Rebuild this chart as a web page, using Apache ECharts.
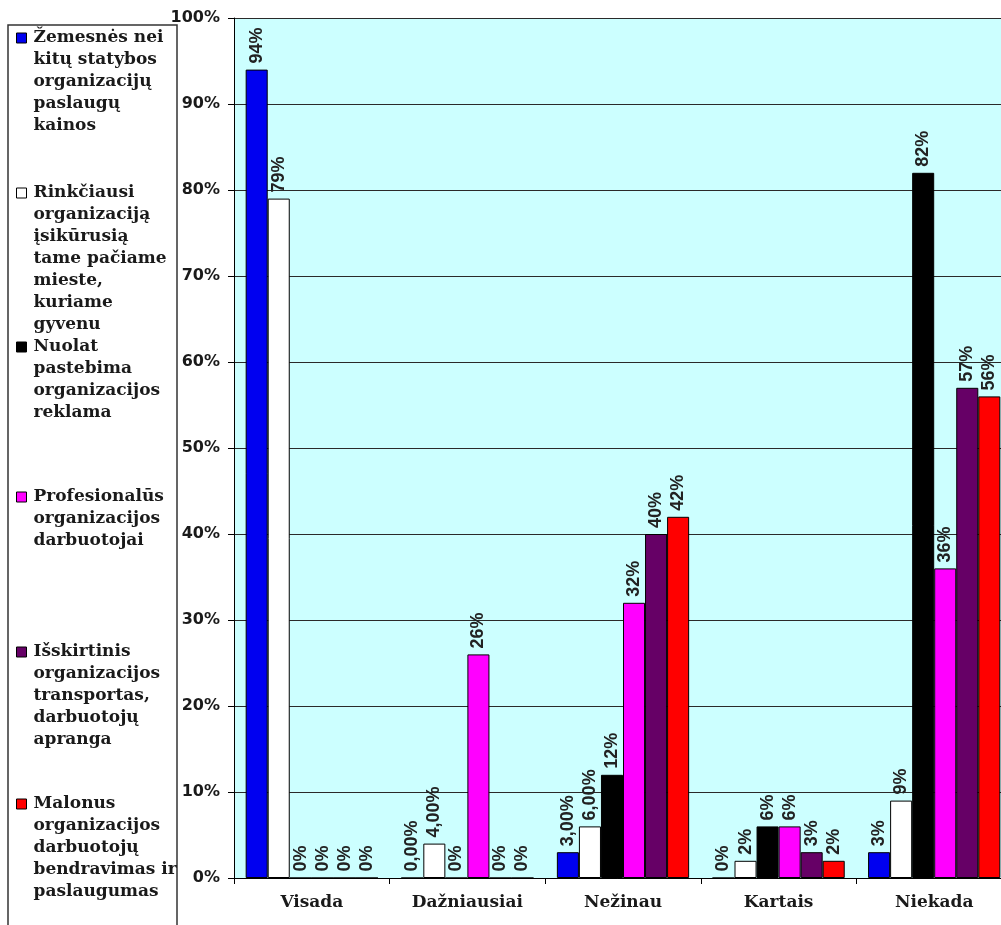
<!DOCTYPE html>
<html>
<head>
<meta charset="utf-8">
<title>Organizacijos pasirinkimo priežastys</title>
<script src="https://cdn.jsdelivr.net/npm/echarts@6/dist/echarts.min.js"></script>
<style>
  html, body { margin: 0; padding: 0; background: #ffffff; }
  #chart { width: 1001px; height: 925px; }
</style>
</head>
<body>
<div id="chart"></div>
<script>
// Answer categories on the x axis
const categories = ['Visada', 'Dažniausiai', 'Nežinau', 'Kartais', 'Niekada'];

// Series names, wrapped the way they appear in the legend
const seriesNames = [
  'Žemesnės nei\nkitų statybos\norganizacijų\npaslaugų\nkainos',
  'Rinkčiausi\norganizaciją\nįsikūrusią\ntame pačiame\nmieste,\nkuriame\ngyvenu',
  'Nuolat\npastebima\norganizacijos\nreklama',
  'Profesionalūs\norganizacijos\ndarbuotojai',
  'Išskirtinis\norganizacijos\ntransportas,\ndarbuotojų\napranga',
  'Malonus\norganizacijos\ndarbuotojų\nbendravimas ir\npaslaugumas'
];

// Shares of respondents, %
const zemesnesKainos      = [94, 0, 3, 0, 3];
const tamePaciameMieste   = [79, 4, 6, 2, 9];
const pastebimaReklama    = [0, 0, 12, 6, 82];
const profesionalusDarb   = [0, 26, 32, 6, 36];
const isskirtinisTransp   = [0, 0, 40, 3, 57];
const malonusBendravimas  = [0, 0, 42, 2, 56];

// Decimal places shown in each value label (per series, per category)
const labelDecimals = [
  [0, 2, 2, 0, 0],
  [0, 2, 2, 0, 0],
  [0, 0, 0, 0, 0],
  [0, 0, 0, 0, 0],
  [0, 0, 0, 0, 0],
  [0, 0, 0, 0, 0]
];

// Y axis ticks
const yTicks = { min: 0, max: 100, step: 10 };

const seriesValues = [
  zemesnesKainos, tamePaciameMieste, pastebimaReklama,
  profesionalusDarb, isskirtinisTransp, malonusBendravimas
];
const seriesColors = ['#0000F0', '#FFFFFF', '#000000', '#FF00FF', '#660066', '#FF0000'];

// Legend layout: vertical centre of each legend marker
const legendMarkerY = [38, 193, 347, 497, 652, 804];
const legendLineHeight = 22;

const serifFont = '"DejaVu Serif", serif';
const sansFont = '"DejaVu Sans", sans-serif';
const labelFont = '"Liberation Sans", Arial, sans-serif';

function fmtPercent(v, decimals) {
  return v.toFixed(decimals).replace('.', ',') + '%';
}

const series = seriesValues.map((vals, si) => ({
  name: seriesNames[si],
  type: 'bar',
  data: vals,
  barGap: '0%',
  barCategoryGap: '15%',
  itemStyle: { color: seriesColors[si], borderColor: '#000', borderWidth: 1 },
  label: {
    show: true,
    position: 'top',
    rotate: 90,
    align: 'left',
    verticalAlign: 'middle',
    distance: 6,
    fontFamily: labelFont,
    fontWeight: 'bold',
    fontSize: 18,
    color: '#222',
    formatter: p => fmtPercent(p.value, labelDecimals[si][p.dataIndex])
  },
  emphasis: { disabled: true }
}));

// One legend block per series so the entries sit at fixed heights.
// Leading blank lines keep the marker level with the first text line.
const legends = seriesNames.map((name, i) => {
  const n = name.split('\n').length;
  const boxH = (2 * n - 1) * legendLineHeight;
  return {
    show: true,
    orient: 'vertical',
    left: 16,
    top: legendMarkerY[i] - boxH / 2,
    padding: 0,
    itemWidth: 10,
    itemHeight: 10,
    icon: 'rect',
    selectedMode: false,
    data: [name],
    formatter: nm => '\n'.repeat(n - 1) + nm,
    itemStyle: { borderColor: '#000', borderWidth: 1 },
    textStyle: {
      fontFamily: serifFont,
      fontWeight: 'bold',
      fontSize: 17,
      lineHeight: legendLineHeight,
      color: '#1a1a1a',
      padding: [0, 0, 0, 2]
    }
  };
});

const chart = echarts.init(document.getElementById('chart'), null, { renderer: 'canvas' });

chart.setOption({
  animation: false,
  backgroundColor: '#ffffff',
  graphic: [{
    type: 'rect',
    z: -1,
    shape: { x: 8, y: 25, width: 169, height: 940 },
    style: { fill: '#ffffff', stroke: '#333', lineWidth: 1.5 }
  }],
  legend: legends,
  grid: {
    left: 234,
    top: 18,
    width: 778,
    bottom: 47,
    outerBoundsMode: 'none',
    containLabel: false,
    show: true,
    backgroundColor: '#CCFFFF',
    borderWidth: 0
  },
  xAxis: {
    type: 'category',
    data: categories,
    axisLine: { show: true, lineStyle: { color: '#000', width: 1 } },
    axisTick: { show: true, length: 6, lineStyle: { color: '#000' } },
    axisLabel: {
      margin: 16,
      fontFamily: serifFont,
      fontWeight: 'bold',
      fontSize: 17,
      color: '#1a1a1a'
    }
  },
  yAxis: {
    type: 'value',
    min: yTicks.min,
    max: yTicks.max,
    interval: yTicks.step,
    axisLine: { show: true, lineStyle: { color: '#000', width: 1 } },
    axisTick: { show: true, length: 6, lineStyle: { color: '#000' } },
    splitLine: { show: true, lineStyle: { color: '#2a2a2a', width: 1 } },
    axisLabel: {
      margin: 14,
      formatter: '{value}%',
      fontFamily: sansFont,
      fontWeight: 'bold',
      fontSize: 16,
      color: '#1a1a1a'
    }
  },
  series: series
});
</script>
</body>
</html>
